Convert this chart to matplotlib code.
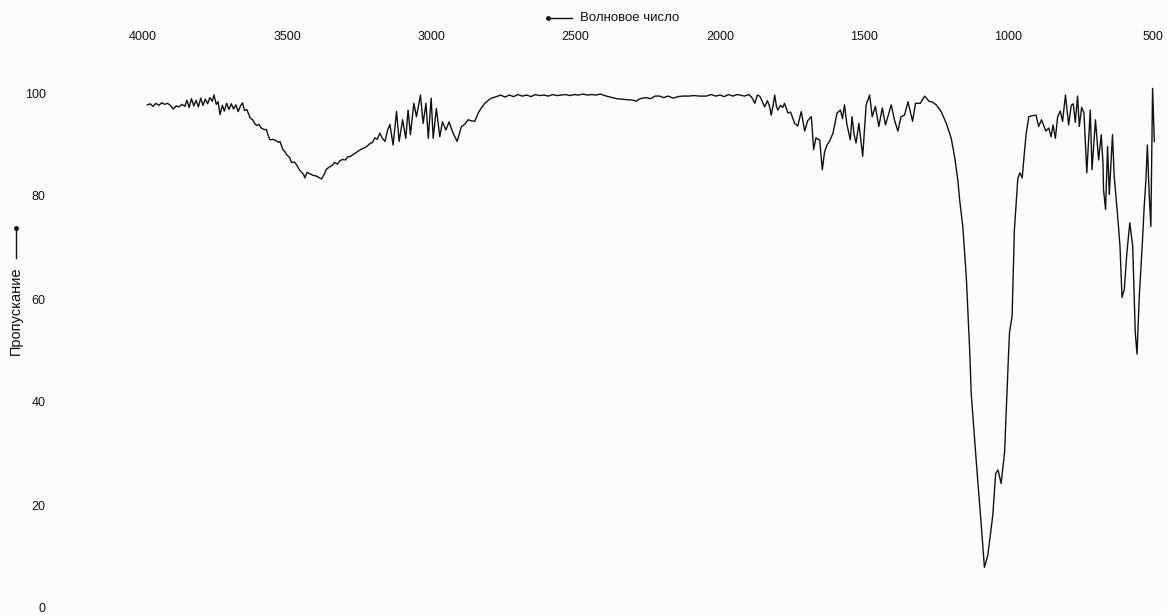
import matplotlib
matplotlib.use("Agg")
import matplotlib.pyplot as plt
from matplotlib.lines import Line2D

plt.rcParams['font.family'] = ['Liberation Sans', 'DejaVu Sans']

# ИК-спектр: волновое число (см-1) и пропускание (%)
wavenumber = [
    3985, 3975, 3965, 3955, 3945, 3935, 3925, 3915, 3905, 3895, 3885, 3875, 3865, 3855, 3848,
    3840, 3832, 3824, 3816, 3808, 3800, 3792, 3784, 3776, 3768, 3760, 3754, 3746, 3740, 3733,
    3725, 3718, 3710, 3702, 3694, 3686, 3678, 3670, 3662, 3655, 3648, 3640, 3629, 3620, 3612,
    3606, 3598, 3590, 3580, 3572, 3566, 3560, 3550, 3540, 3530, 3525, 3515, 3508, 3502, 3492,
    3485, 3475, 3467, 3458, 3450, 3443, 3439, 3431, 3421, 3410, 3400, 3390, 3381, 3372, 3364,
    3355, 3345, 3336, 3326, 3318, 3308, 3298, 3290, 3280, 3271, 3262, 3252, 3243, 3234, 3225,
    3215, 3205, 3196, 3188, 3179, 3170, 3161, 3152, 3144, 3133, 3121, 3112, 3100, 3089, 3081,
    3073, 3061, 3052, 3038, 3029, 3019, 3011, 3001, 2994, 2983, 2971, 2962, 2950, 2939, 2925,
    2911, 2896, 2885, 2873, 2862, 2850, 2838, 2826, 2815, 2800, 2792, 2775, 2760, 2745, 2730,
    2715, 2700, 2685, 2670, 2655, 2640, 2625, 2610, 2595, 2580, 2565, 2550, 2535, 2520, 2505,
    2490, 2475, 2460, 2445, 2430, 2415, 2400, 2380, 2359, 2340, 2320, 2300, 2290, 2280, 2270,
    2255, 2240, 2225, 2209, 2195, 2180, 2162, 2145, 2130, 2110, 2090, 2070, 2047, 2030, 2015,
    2000, 1985, 1970, 1955, 1940, 1931, 1915, 1900, 1890, 1879, 1870, 1862, 1855, 1845, 1835,
    1828, 1822, 1815, 1810, 1804, 1799, 1790, 1782, 1776, 1764, 1755, 1741, 1730, 1718, 1706,
    1696, 1683, 1675, 1667, 1660, 1654, 1645, 1637, 1628, 1620, 1608, 1594, 1582, 1575, 1568,
    1560, 1548, 1542, 1535, 1528, 1518, 1505, 1493, 1481, 1472, 1461, 1449, 1437, 1426, 1406,
    1395, 1383, 1372, 1360, 1348, 1332, 1322, 1305, 1290, 1275, 1262, 1250, 1233, 1215, 1204,
    1198, 1186, 1175, 1169, 1158, 1146, 1134, 1129, 1112, 1094, 1083, 1071, 1054, 1044, 1036,
    1025, 1013, 1007, 1000, 996, 987, 979, 967, 960, 952, 944, 938, 929, 917, 904,
    895, 885, 870, 860, 852, 845, 837, 829, 820, 812, 802, 791, 782, 775, 768,
    760, 754, 746, 738, 728, 716, 710, 698, 687, 678, 672, 670, 663, 656, 650,
    639, 633, 622, 613, 606, 598, 589, 579, 569, 560, 554, 546, 536, 529, 523,
    518, 512, 506, 500, 494,
]
transmittance = [
    97.7, 97.9, 97.4, 98.0, 97.6, 98.1, 97.8, 98.0, 97.6, 96.9, 97.5, 97.3, 97.8, 97.4, 98.6,
    97.2, 98.9, 97.5, 98.6, 97.3, 99.0, 97.6, 98.8, 97.9, 99.1, 98.4, 99.6, 97.8, 98.3, 95.8,
    97.6, 96.5, 98.0, 96.8, 97.9, 96.9, 97.7, 96.4, 97.5, 98.1, 96.6, 96.8, 95.2, 94.8, 94.0,
    93.7, 93.9, 93.2, 92.9, 92.9, 91.7, 90.9, 91.0, 90.8, 90.4, 90.6, 89.0, 88.6, 88.0, 87.5,
    86.5, 86.6, 86.0, 85.1, 84.6, 84.2, 83.5, 84.6, 84.3, 84.0, 83.9, 83.6, 83.3, 84.2, 85.2,
    85.6, 85.9, 86.5, 86.2, 86.8, 87.1, 87.0, 87.6, 87.7, 88.1, 88.4, 88.8, 89.1, 89.3, 89.6,
    90.1, 90.4, 91.3, 91.0, 92.2, 91.2, 90.6, 92.8, 93.9, 89.9, 96.4, 90.6, 94.8, 91.2, 96.7,
    91.9, 98.0, 95.4, 99.6, 94.1, 98.0, 91.2, 99.0, 91.2, 97.0, 91.5, 94.4, 92.8, 94.4, 92.2,
    90.6, 93.5, 93.9, 94.8, 94.6, 94.5, 96.1, 97.2, 98.0, 98.7, 99.0, 99.3, 99.6, 99.2, 99.6,
    99.3, 99.7, 99.4, 99.6, 99.3, 99.7, 99.5, 99.6, 99.4, 99.7, 99.5, 99.6, 99.7, 99.5, 99.7,
    99.6, 99.8, 99.6, 99.7, 99.6, 99.8, 99.5, 99.2, 98.9, 98.8, 98.7, 98.6, 98.4, 98.8, 99.0,
    99.1, 98.9, 99.4, 99.4, 99.1, 99.4, 99.0, 99.3, 99.4, 99.4, 99.5, 99.4, 99.4, 99.7, 99.4,
    99.6, 99.3, 99.7, 99.4, 99.7, 99.6, 99.4, 99.7, 99.2, 98.0, 99.6, 99.4, 98.6, 97.3, 98.5,
    97.4, 95.7, 97.8, 99.6, 97.4, 96.7, 97.6, 97.2, 98.0, 96.1, 96.3, 94.1, 93.6, 96.4, 92.6,
    94.6, 95.4, 89.0, 91.3, 91.0, 90.9, 85.1, 88.6, 90.0, 90.6, 92.2, 96.1, 96.7, 95.0, 97.7,
    94.0, 90.9, 95.4, 92.0, 90.3, 94.1, 87.7, 97.7, 99.6, 95.4, 97.4, 93.5, 97.1, 93.8, 97.7,
    94.8, 92.6, 95.4, 95.7, 98.3, 94.5, 98.0, 98.0, 99.4, 98.4, 98.2, 97.7, 96.4, 94.1, 92.2,
    91.2, 87.5, 83.0, 79.3, 74.1, 64.5, 50.0, 41.9, 29.0, 16.1, 7.9, 10.3, 18.0, 26.1, 26.8,
    24.2, 30.3, 38.7, 48.4, 53.5, 56.7, 73.5, 83.5, 84.5, 83.5, 88.7, 92.2, 95.4, 95.6, 95.7,
    93.5, 94.8, 92.6, 93.2, 91.5, 93.8, 91.2, 95.4, 96.5, 94.5, 99.6, 93.8, 97.6, 97.9, 94.3,
    99.4, 93.5, 97.2, 96.2, 84.5, 96.7, 85.1, 94.8, 87.0, 91.9, 86.5, 81.2, 77.4, 89.6, 80.3,
    91.9, 83.8, 76.7, 70.3, 60.3, 61.9, 69.0, 74.8, 70.3, 53.5, 49.3, 60.6, 70.3, 78.0, 83.2,
    89.9, 80.6, 74.1, 100.9, 90.6,
]

x_ticks = [4000, 3500, 3000, 2500, 2000, 1500, 1000, 500]
y_ticks = [0, 20, 40, 60, 80, 100]

bg = '#fcfcfc'
fig = plt.figure(figsize=(11.67, 6.15), dpi=100, facecolor=bg)
ax = fig.add_axes([143 / 1167, 7 / 615, 1 - 143 / 1167, 515 / 615])
ax.set_facecolor(bg)

ax.plot(wavenumber, transmittance, color='#111111', lw=1.0, clip_on=False)

ax.set_xlim(4000, 450)
ax.set_ylim(0, 100)
ax.xaxis.tick_top()
ax.set_xticks(x_ticks)
ax.set_yticks(y_ticks)
ax.tick_params(axis='x', length=0, pad=36, labelsize=9, colors='#111111')
ax.tick_params(axis='y', length=0, pad=70, labelsize=9, colors='#111111')
for s in ax.spines.values():
    s.set_visible(False)

# подписи осей со стрелками
fig.add_artist(Line2D([548 / 1167, 572 / 1167], [1 - 18 / 615, 1 - 18 / 615],
                      transform=fig.transFigure, color='#111111', lw=1.0,
                      marker='o', markersize=2.5, markevery=[0]))
fig.text(580 / 1167, 1 - 18 / 615, 'Волновое число', fontsize=9.5,
         ha='left', va='center', color='#111111')

fig.add_artist(Line2D([16 / 1167, 16 / 1167], [1 - 228 / 615, 1 - 258 / 615],
                      transform=fig.transFigure, color='#111111', lw=1.0,
                      marker='o', markersize=2.5, markevery=[0]))
fig.text(16 / 1167, 1 - 311 / 615, 'Пропускание', fontsize=10.5, rotation=90,
         ha='center', va='center', color='#111111')

fig.savefig('out.png', dpi=100, facecolor=bg)
